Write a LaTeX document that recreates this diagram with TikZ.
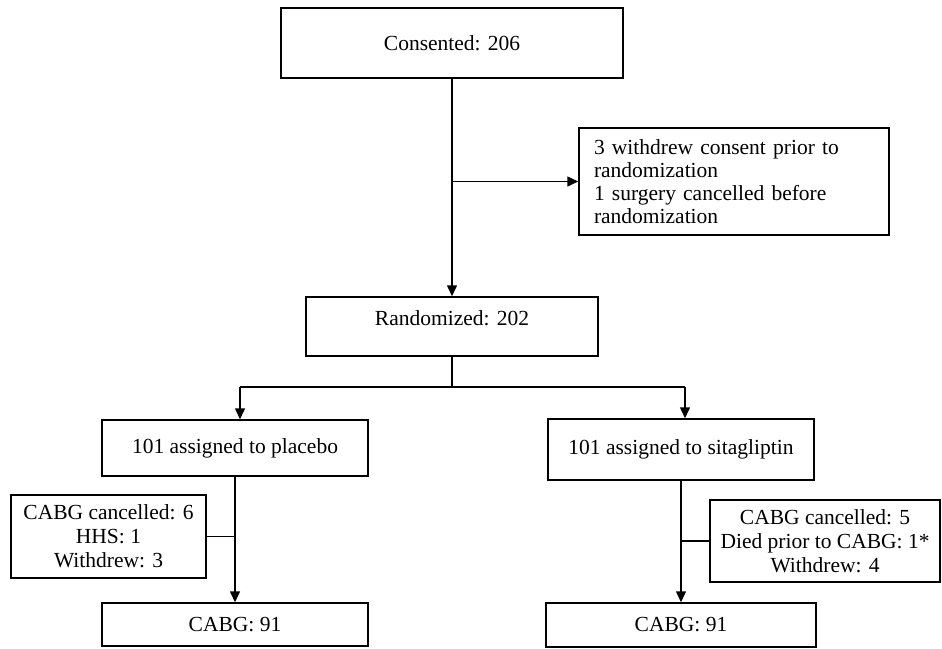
\documentclass[tikz,border=0pt]{standalone}
\usepackage{fontspec}
\setmainfont{Liberation Serif}
\usetikzlibrary{arrows.meta}
\begin{document}
\begin{tikzpicture}[x=0.5pt,y=-0.5pt,
  font=\fontsize{10.75}{12}\selectfont,
  box/.style={draw, line width=0.75pt, inner sep=0pt, align=center},
  conn/.style={line width=0.75pt},
  arr/.style={line width=0.75pt, -{Triangle[length=5.5pt,width=5pt]}},
  txt/.style={inner sep=0pt}]
\useasboundingbox (0,0) rectangle (942,648);
% boxes
\node[box, minimum width=171pt, minimum height=35pt] (cons) at (452,43) {Consented: 206};
\node[box, minimum width=155pt, minimum height=53.5pt, text width=140pt, inner xsep=7.5pt, align=left,
      font=\fontsize{10.75}{11.6}\selectfont] (wd) at (734,181.5)
  {3 withdrew consent prior to\\randomization\\1 surgery cancelled before\\randomization};
\node[box, minimum width=146pt, minimum height=29.5pt] (rand) at (452,326.5) {};
\node[txt] (randtxt) at (452,318) {Randomized: 202};
\node[box, minimum width=133pt, minimum height=28pt] (plac) at (235,448) {101 assigned to placebo};
\node[box, minimum width=133pt, minimum height=30.5pt] (sita) at (681,449.5) {101 assigned to sitagliptin};
\node[box, minimum width=97.5pt, minimum height=41.5pt] (lside) at (108.5,536.5)
  {CABG cancelled: 6\\HHS: 1\\Withdrew: 3};
\node[box, minimum width=115pt, minimum height=41pt] (rside) at (825,541)
  {CABG cancelled: 5\\Died prior to CABG: 1*\\Withdrew: 4};
\node[box, minimum width=133pt, minimum height=21.5pt] (cabgL) at (235,624.5) {CABG: 91};
\node[box, minimum width=135pt, minimum height=22pt] (cabgR) at (681,625) {CABG: 91};
% connectors
\coordinate (b1) at (452,181.5);
\coordinate (b2) at (452,387);
\coordinate (pl) at (240,387);
\coordinate (sr) at (685,387);
\draw[arr] (cons.south) -- (rand.north);
\draw[arr] (b1) -- (wd.west);
\draw[conn] (rand.south) -- (b2);
\draw[conn] (pl) -- (sr);
\draw[arr] (pl) -- (pl |- plac.north);
\draw[arr] (sr) -- (sr |- sita.north);
\draw[arr] (plac.south) -- (cabgL.north);
\draw[arr] (sita.south) -- (cabgR.north);
\draw[conn] (lside.east) -- (lside.east -| plac.south);
\draw[conn] (rside.west) -- (rside.west -| sita.south);
\end{tikzpicture}
\end{document}
